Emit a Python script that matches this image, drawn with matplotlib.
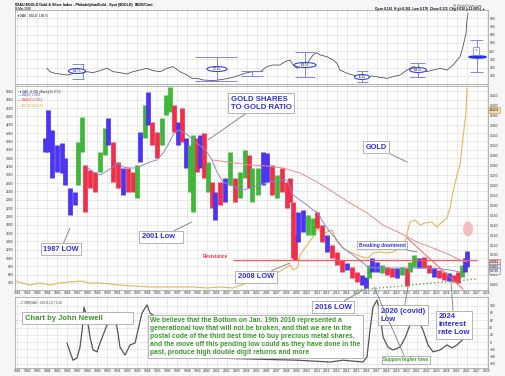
import numpy as np
import matplotlib.pyplot as plt
import matplotlib.transforms as mtransforms
from matplotlib.patches import Ellipse

plt.rcParams['font.family'] = ['Liberation Sans', 'DejaVu Sans']

# ---- XAU:GOLD ratio bars (approx. half-year ranges) ----
bar_years = [1983.8, 1984.1, 1984.5, 1985.0, 1985.5, 1985.8, 1986.3, 1986.8, 1987.1, 1987.5,
             1987.8, 1988.3, 1988.8, 1989.3, 1989.8, 1990.1, 1990.6, 1991.1, 1991.6, 1992.1,
             1992.6, 1993.0, 1993.3, 1993.8, 1994.1, 1994.5, 1995.0, 1995.5, 1995.9, 1996.3,
             1996.7, 1997.1, 1997.5, 1997.9, 1998.3, 1998.6, 1999.0, 1999.3, 1999.7, 2000.1,
             2000.5, 2000.8, 2001.3, 2001.8, 2002.3, 2002.8, 2003.3, 2003.8, 2004.2, 2004.5,
             2005.1, 2005.6, 2006.0, 2006.5, 2007.0, 2007.5, 2008.0, 2008.3, 2008.6, 2008.8,
             2009.1, 2009.6, 2010.1, 2010.6, 2011.0, 2011.5, 2012.0, 2012.5, 2013.0, 2013.5,
             2014.0, 2014.5, 2015.0, 2015.5, 2015.9, 2016.2, 2016.5, 2017.0, 2017.5, 2018.0,
             2018.5, 2019.0, 2019.5, 2020.0, 2020.3, 2020.7, 2021.2, 2021.7, 2022.2, 2022.7,
             2023.2, 2023.7, 2024.2, 2024.7, 2025.1, 2025.5, 2025.8, 2026.0]
bar_high = [0.334, 0.390, 0.350, 0.320, 0.324, 0.294, 0.234, 0.226, 0.326, 0.376,
            0.280, 0.270, 0.266, 0.306, 0.354, 0.374, 0.326, 0.286, 0.274, 0.274,
            0.266, 0.280, 0.346, 0.400, 0.426, 0.366, 0.346, 0.374, 0.420, 0.436,
            0.400, 0.366, 0.394, 0.334, 0.320, 0.340, 0.334, 0.340, 0.344, 0.286,
            0.246, 0.226, 0.246, 0.254, 0.306, 0.254, 0.266, 0.310, 0.300, 0.274,
            0.274, 0.306, 0.304, 0.280, 0.260, 0.274, 0.246, 0.254, 0.206, 0.140,
            0.186, 0.190, 0.180, 0.174, 0.186, 0.160, 0.140, 0.120, 0.106, 0.090,
            0.084, 0.076, 0.066, 0.060, 0.056, 0.080, 0.094, 0.086, 0.080, 0.076,
            0.074, 0.074, 0.076, 0.074, 0.086, 0.100, 0.094, 0.096, 0.080, 0.074,
            0.070, 0.066, 0.064, 0.060, 0.066, 0.080, 0.094, 0.108]
bar_low = [0.306, 0.306, 0.254, 0.266, 0.264, 0.240, 0.180, 0.200, 0.240, 0.306,
           0.186, 0.234, 0.226, 0.266, 0.300, 0.320, 0.246, 0.234, 0.220, 0.226,
           0.226, 0.214, 0.286, 0.334, 0.360, 0.320, 0.294, 0.320, 0.380, 0.386,
           0.346, 0.320, 0.326, 0.274, 0.226, 0.186, 0.266, 0.274, 0.254, 0.226,
           0.194, 0.170, 0.200, 0.206, 0.240, 0.206, 0.214, 0.254, 0.234, 0.206,
           0.220, 0.240, 0.246, 0.220, 0.214, 0.226, 0.194, 0.206, 0.094, 0.090,
           0.126, 0.146, 0.140, 0.140, 0.154, 0.126, 0.106, 0.094, 0.080, 0.066,
           0.070, 0.054, 0.046, 0.040, 0.034, 0.054, 0.066, 0.066, 0.064, 0.060,
           0.056, 0.054, 0.060, 0.038, 0.066, 0.076, 0.074, 0.074, 0.064, 0.056,
           0.054, 0.050, 0.048, 0.046, 0.044, 0.056, 0.066, 0.076]
bar_trend = list("bbbbbbbbgg" "rrrggbrrbr" "rgbgbrrggg" "rbrbggrbrg" "rbrbgrggrg"
                 "gbbrgrrrrr" "bbggrrbrrr" "brrbbgbbgr" "rbgrggbrrb" "rrbrrgbb")

ma_fast_years = [1988.0, 1988.6, 1989.3, 1990.0, 1990.6, 1991.1, 1991.6, 1992.3, 1993.0, 1993.6,
                 1994.3, 1995.0, 1995.6, 1996.1, 1996.6, 1997.1, 1997.6, 1998.1, 1998.8, 1999.5,
                 2000.0, 2000.5, 2001.0, 2001.6, 2002.3, 2003.0, 2003.6, 2004.3, 2005.3, 2006.3,
                 2007.3, 2008.0, 2008.6, 2009.3, 2010.0, 2010.6, 2011.1, 2011.6, 2012.3, 2013.0,
                 2013.6, 2014.3, 2015.0, 2015.6, 2016.1, 2016.8, 2017.6, 2019.3, 2021.0, 2022.6,
                 2024.3, 2025.3]
ma_fast = [0.276, 0.266, 0.260, 0.268, 0.276, 0.284, 0.276, 0.274, 0.274, 0.280,
           0.286, 0.290, 0.304, 0.320, 0.340, 0.350, 0.346, 0.340, 0.326, 0.316,
           0.306, 0.290, 0.266, 0.246, 0.240, 0.234, 0.230, 0.234, 0.240, 0.246,
           0.250, 0.250, 0.220, 0.210, 0.200, 0.190, 0.184, 0.166, 0.146, 0.130,
           0.114, 0.104, 0.094, 0.084, 0.076, 0.074, 0.074, 0.074, 0.074, 0.074,
           0.070, 0.066]

ma_slow_years = [2000.6, 2004.3, 2006.0, 2007.6, 2009.3, 2011.0, 2012.6, 2014.3, 2016.0, 2017.6,
                 2019.3, 2021.0, 2022.6, 2024.3, 2025.3, 2026.0]
ma_slow = [0.290, 0.280, 0.278, 0.274, 0.264, 0.246, 0.226, 0.204, 0.184, 0.160,
           0.144, 0.126, 0.114, 0.100, 0.090, 0.086]

gold_years = [1980.8, 1982.3, 1983.3, 1984.3, 1985.3, 1986.3, 1987.3, 1988.3, 1989.3, 1990.3,
              1991.3, 1992.6, 1994.3, 1996.0, 1997.3, 1998.6, 2000.0, 2001.3, 2002.6, 2004.0,
              2005.3, 2007.0, 2008.0, 2008.3, 2008.6, 2009.1, 2009.3, 2010.0, 2010.6, 2011.1,
              2011.5, 2012.0, 2012.5, 2013.0, 2013.6, 2014.3, 2015.0, 2015.6, 2016.1, 2016.6,
              2017.3, 2018.0, 2018.6, 2019.3, 2019.8, 2020.3, 2020.8, 2021.3, 2021.8, 2022.5,
              2023.0, 2023.5, 2024.0, 2024.3, 2024.6, 2025.0, 2025.3, 2025.6, 2025.9, 2026.0]
gold_price = [448, 352, 400, 352, 400, 424, 448, 400, 400, 376,
              352, 328, 304, 304, 304, 304, 280, 304, 280, 400,
              400, 640, 784, 832, 712, 784, 1072, 1312, 1504, 1720,
              1552, 1624, 1672, 1384, 1240, 1144, 1072, 1024, 1000, 1120,
              1144, 1120, 1144, 1240, 1384, 1864, 1912, 1792, 1840, 1864,
              1744, 1864, 1960, 2200, 2584, 2992, 3232, 3880, 4504, 5080]

# ---- top panel ratio line ----
top_years = [1984.0, 1984.3, 1984.8, 1985.3, 1986.0, 1986.5, 1987.0, 1987.5, 1988.0, 1988.6,
             1989.3, 1990.0, 1990.6, 1991.3, 1992.0, 1992.6, 1993.3, 1994.0, 1994.6, 1995.3,
             1996.0, 1996.6, 1997.3, 1998.0, 1998.5, 1999.0, 1999.6, 2000.6, 2001.6, 2002.6,
             2003.3, 2004.0, 2004.6, 2005.3, 2006.0, 2006.6, 2007.3, 2007.8, 2008.3, 2008.6,
             2009.0, 2009.3, 2010.0, 2010.6, 2011.0, 2011.3, 2012.0, 2012.6, 2013.0, 2013.3,
             2014.0, 2014.6, 2015.3, 2016.0, 2016.6, 2017.3, 2018.0, 2018.6, 2019.3, 2020.0,
             2020.6, 2021.3, 2022.0, 2022.6, 2023.3, 2024.0, 2024.6, 2025.3, 2025.6, 2025.9,
             2026.0, 2026.1]
top_values = [191, 150, 130, 122, 109, 122, 170, 130, 150, 138,
              162, 191, 150, 138, 122, 150, 170, 191, 162, 150,
              191, 211, 150, 109, 69, 69, 49, 41, 57, 81,
              109, 138, 150, 150, 211, 231, 231, 272, 292, 231,
              191, 211, 251, 353, 381, 353, 332, 292, 251, 170,
              130, 109, 89, 89, 97, 81, 69, 89, 109, 170,
              211, 191, 150, 170, 191, 170, 231, 332, 454, 616,
              778, 859]

ell_years = [1987.0, 2001.0, 2009.8, 2015.5, 2021.1]
ell_values = [158, 182, 231, 85, 170]
ell_widths = [1.7, 2.0, 2.2, 1.5, 1.7]
ell_labels = ['158.7%', '227.4%', '163.0%', '86.3%', '138.2%']
rng_x0 = [1986.5, 1998.8, 2003.4, 2008.8, 2015.0, 2020.3, 2026.3]
rng_x1 = [1987.7, 2003.0, 2005.6, 2010.8, 2016.1, 2021.8, 2027.6]
rng_lo = [61, 36, 97, 85, 24, 85, 146]
rng_hi = [243, 328, 158, 389, 158, 255, 535]
rng_mid = [1987.6, 2001.0, 2004.5, 2009.8, 2015.5, 2021.1, 2027.0]

# ---- lower oscillator ----
osc_years = [1986.0, 1986.3, 1986.6, 1987.0, 1987.3, 1987.6, 1987.7, 1988.0, 1988.3, 1988.6,
             1989.0, 1989.3, 1989.8, 1990.3, 1990.6, 1991.0, 1991.3, 1991.8, 1992.3, 1992.8,
             1993.1, 1993.5, 1994.0, 1994.3, 2000.6, 2009.0, 2012.3, 2013.6, 2015.6, 2016.0,
             2016.3, 2016.6, 2017.0, 2017.3, 2017.6, 2018.1, 2018.6, 2019.3, 2019.8, 2020.3,
             2021.1, 2021.6, 2022.1, 2022.6, 2023.3, 2024.0, 2024.5, 2025.0, 2025.5, 2025.8]
osc_values = [-3, -27, -50, -44, -14, 52, 96, 69, 14, -22,
              -27, -3, 33, 69, 82, 41, -14, -36, -8, -3,
              33, 80, 102, 80, -44, -50, -55, -50, -55, -41,
              33, 96, 115, 80, 14, -14, -22, -14, 11, 47,
              60, 33, -8, -27, -22, -8, -16, -8, 5, 11]

resistance = 0.09
resistance_span = [2002.6, 2027.0]
downtrend_years = [2020.0, 2025.6]
downtrend_values = [0.134, 0.032]
support_years = [2015.0, 2027.0]
support_values = [0.030, 0.052]

years = np.arange(1981, 2029)
W, H = 505, 376
BLUE = '#2f2fe6'
GREEN = '#3a9a2a'
trend_colors = {'b': '#4b35f0', 'g': '#3fb83a', 'r': '#f0304a'}

fig = plt.figure(figsize=(W / 100, H / 100), dpi=100)
fig.patch.set_facecolor('#f6f6f8')


def px_axes(x0, y0, x1, y1):
    return fig.add_axes([x0 / W, 1 - y1 / H, (x1 - x0) / W, (y1 - y0) / H])


def style(a):
    a.set_facecolor('white')
    for s in a.spines.values():
        s.set_color('#9a9a9a')
        s.set_linewidth(0.5)
    a.tick_params(length=0, labelsize=2.4, colors='#333333', pad=1)
    a.grid(True, color='#e2e2e2', lw=0.5)
    a.set_axisbelow(True)
    a.set_xlim(1980.8, 2028.1)
    a.set_xticks(years)


ax_top = px_axes(15, 10, 488, 84)
ax_gold = px_axes(15, 86, 488, 290)
ax_bot = px_axes(15, 297, 488, 368)
for a in (ax_top, ax_gold, ax_bot):
    style(a)
ax = ax_gold.twinx()
ax.patch.set_visible(False)
for s in ax.spines.values():
    s.set_visible(False)
ax.tick_params(length=0, labelsize=2.4, colors='#333333', pad=1)

# ---- top panel ----
ax_top.set_ylim(0, 900)
ax_top.yaxis.tick_right()
ax_top.set_yticks(np.arange(100, 900, 100))
ax_top.set_xticklabels([])
ax_top.plot(top_years, top_values, color='#555555', lw=0.6)
for x0, x1, lo, hi, xm in zip(rng_x0, rng_x1, rng_lo, rng_hi, rng_mid):
    ax_top.hlines([lo, hi], x0, x1, color='#6a74ee', lw=0.6)
    ax_top.vlines(xm, lo, hi, color='#6a74ee', lw=0.6)
for xc, yc, w, lab in zip(ell_years, ell_values, ell_widths, ell_labels):
    ax_top.add_patch(Ellipse((xc, yc), w, 60, fc='white', ec='#3344ee', lw=0.8, zorder=4))
    ax_top.text(xc, yc, lab, fontsize=1.8, ha='center', va='center', zorder=5)
ax_top.add_patch(Ellipse((2027.05, 328), 1.7, 26, fc='#2233dd', ec='#2233dd', zorder=4))
ax_top.text(2026.9, 400, '?', fontsize=3, color=BLUE, ha='center', va='center', zorder=5,
            bbox=dict(boxstyle='square,pad=0.4', fc='white', ec='#6a74ee', lw=0.5))
ax_top.text(0.003, 0.96, '\u25bc $XAU:$GOLD  164.75', transform=ax_top.transAxes,
            fontsize=2.2, va='top')

fig.text(15 / W, 1 - 5 / H, '$XAU:$GOLD Gold & Silver Index - Philadelphia/Gold - Spot ($GOLD)  INDX/Cont',
         fontsize=2.6, weight='bold', va='center')
fig.text(15 / W, 1 - 9 / H, '19-Mar-2026', fontsize=2.2, va='center')
fig.text(482 / W, 1 - 5 / H, '@ StockCharts.com', fontsize=2.3, ha='right', va='center', color='#555555')
fig.text(485 / W, 1 - 9 / H, 'Open 0.161  High 0.161  Low 0.170  Close 0.172  Chg 0.018 (+11.60%) \u25b2',
         fontsize=2.3, weight='bold', ha='right', va='center')

# ---- main panel ----
ax_gold.set_ylim(232, 5128)
ax_gold.set_yticks(np.arange(400, 5001, 200))
ax_gold.set_xticklabels([str(y) for y in years])
ax_gold.plot(gold_years, gold_price, color='#e8b45c', lw=0.8)

ax.set_ylim(0.03, 0.438)
ax.set_yticks(np.arange(0.04, 0.431, 0.02))
ax.set_yticklabels(['%.3f' % v for v in np.arange(0.04, 0.431, 0.02)])
ax.vlines(bar_years, bar_low, bar_high, colors=[trend_colors[t] for t in bar_trend], lw=3.4)
ax.plot(ma_fast_years, ma_fast, color='#8a8ad0', lw=0.7)
ax.plot(ma_slow_years, ma_slow, color='#ee8a8a', lw=0.7)
ax.hlines(resistance, *resistance_span, color='#ff5555', lw=0.9)
ax.plot(downtrend_years, downtrend_values, color='#ee6666', lw=0.7)
ax.plot(support_years, support_values, color='#66aa44', lw=1.0, ls=':')
ax.add_patch(Ellipse((2026.1, 0.152), 1.0, 0.03, fc='#f4b0b0', ec='none', alpha=0.8))

legend_lines = [('\u25bc $XAU:$GOLD (Weekly) 0.1725', '#222222'),
                ('\u2014 MA(50) 0.0801', '#5555cc'),
                ('\u2014 MA(200) 0.0912', '#dd3333'),
                ('\u2014 $GOLD 4612.90', '#d89a30')]
for i, (txt, col) in enumerate(legend_lines):
    ax.text(0.006, 0.992 - i * 0.026, txt, transform=ax.transAxes, fontsize=2.1, color=col, va='top')

blend = mtransforms.blended_transform_factory(ax.transAxes, ax.transData)
for val, txt, fc, ec in [(0.390, '4612.9', '#f3dca8', '#c89a40'),
                         (0.086, '0.0912', '#f8cccc', '#dd5555'),
                         (0.076, '0.0801', '#dde0f0', '#7777bb'),
                         (0.068, '0.0725', '#eeeeee', '#888888')]:
    ax.text(1.004, val, txt, transform=blend, fontsize=2.2, va='center', clip_on=False,
            bbox=dict(boxstyle='square,pad=0.2', fc=fc, ec=ec, lw=0.4))

box = dict(boxstyle='square,pad=0.35', fc='white', ec='#a8a8a8', lw=0.6)
arrow = dict(arrowstyle='-', color='#8a8a8a', lw=0.7, shrinkA=0, shrinkB=0)
main_labels = [('GOLD SHARES\nTO GOLD RATIO', (2005.4, 0.404), (2000.1, 0.330), 5.6),
               ('GOLD', (2016.9, 0.316), (2020.0, 0.286), 5.3),
               ('1987 LOW', (1985.4, 0.112), (1986.3, 0.154), 5.3),
               ('2001 Low   ', (1995.4, 0.136), (1998.5, 0.166), 5.3),
               ('2008 LOW', (2004.9, 0.056), (2008.3, 0.084), 5.4),
               ('Breaking downtrend', (2017.5, 0.120), (2021.0, 0.106), 3.4)]
for txt, pos, target, size in main_labels:
    ax.annotate(txt, xy=target, xytext=pos, fontsize=size, weight='bold', color=BLUE,
                ha='center', va='center', multialignment='left', bbox=box, arrowprops=arrow,
                zorder=6)
ax.text(2000.8, 0.096, 'Resistance', fontsize=3.4, weight='bold', color='#ee3333',
        ha='center', va='center', bbox=dict(boxstyle='square,pad=0.2', fc='white', ec='none'))

# ---- lower panel ----
ax_bot.set_ylim(-71.5, 124)
ax_bot.yaxis.tick_right()
ax_bot.set_yticks(np.arange(-60, 101, 20))
ax_bot.set_xticklabels([str(y) for y in years])
ax_bot.plot(osc_years, osc_values, color='#555555', lw=0.9)
ax_bot.text(0.004, 0.97, '\u2014 CORR($XAU:$GOLD,23) 71.40', transform=ax_bot.transAxes,
            fontsize=2.2, va='top', color='#444444')

bot_labels = [('2016 LOW', (2012.6, 96), (2016.0, 0.034), BLUE, 5.5),
              ('2020 (covid)\nLow', (2019.6, 74), (2020.1, 0.036), BLUE, 5.5),
              ('2024\ninterest\nrate Low', (2024.7, 47), (2024.4, 0.046), BLUE, 5.5),
              ('Support higher lows', (2019.9, -49), (2016.7, 0.036), GREEN, 3.3)]
for txt, pos, target, col, size in bot_labels:
    ax_bot.annotate(txt, xy=target, xycoords=ax.transData, xytext=pos,
                    textcoords=ax_bot.transData, fontsize=size,
                    weight='bold', color=col, ha='center', va='center', multialignment='left',
                    bbox=box, arrowprops=arrow, annotation_clip=False, zorder=6)

ax_bot.text(1981.8, 66, 'Chart by John Newell             ', fontsize=5.5, weight='bold',
            color=GREEN, va='center', bbox=box, zorder=6)
note = ("We believe that the Bottom on Jan. 19th 2016 represented a\n"
        "generational low that will not be broken, and that we are in the\n"
        "postal code of the third best time to buy precious metal shares,\n"
        "and the move off this pending low could as they have done in the\n"
        "past, produce high double digit returns and more")
ax_bot.text(1994.3, 15, note, fontsize=4.9, weight='bold', color=GREEN, va='center',
            linespacing=1.2, bbox=box, zorder=6)

fig.savefig('out.png', dpi=100, facecolor=fig.get_facecolor())
